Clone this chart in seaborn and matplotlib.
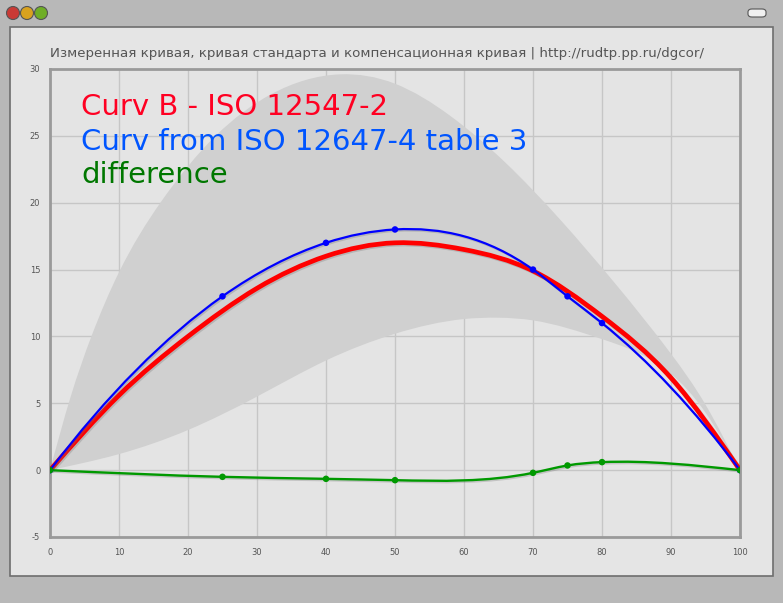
import matplotlib
matplotlib.use("Agg")
import numpy as np
import matplotlib.pyplot as plt
import matplotlib.patheffects as pe
import seaborn as sns
import pandas as pd
from matplotlib.path import Path
from matplotlib.patches import PathPatch, Rectangle, Ellipse, FancyBboxPatch

TITLE = "Измеренная кривая, кривая стандарта и компенсационная кривая | http://rudtp.pp.ru/dgcor/"

# measured points (ISO 12647-4 table 3) and the difference to curve B
x_pts = [0, 25, 40, 50, 70, 75, 80, 100]
iso_table = [0, 13, 17, 18, 15, 13, 11, 0]
difference = [0, -0.5, -0.65, -0.75, -0.2, 0.35, 0.6, 0]

# curve B - ISO 12547-2
curve_b_x = [0, 10, 20, 30, 40, 50, 60, 70, 80, 90, 100]
curve_b_y = [0, 5.6, 10.0, 13.6, 16.0, 17.0, 16.5, 14.9, 11.5, 6.9, 0]

# tolerance band
band_up_x = [0, 3, 6, 10, 16, 24, 32, 42, 50, 58, 66, 74, 82, 90, 95, 100]
band_up_y = [0, 5.5, 10, 14.8, 20, 25, 28.1, 29.6, 28.9, 26.5, 23.0, 18.7, 13.9, 8.7, 4.9, 0]
band_lo_x = [0, 10, 20, 30, 40, 50, 60, 65, 70, 80, 90, 95, 100]
band_lo_y = [0, 1.2, 3.0, 5.5, 8.2, 10.2, 11.3, 11.4, 11.2, 9.8, 7.2, 4.3, 0]

x_ticks = list(range(0, 101, 10))
y_ticks = list(range(-5, 31, 5))

W, H = 783, 603


def spline_path(xs, ys, runout=False):
    """Cubic spline through the points, written as Bezier segments."""
    x = np.asarray(xs, float)
    y = np.asarray(ys, float)
    n = len(x)
    h = np.diff(x)
    A = np.zeros((n, n))
    b = np.zeros(n)
    A[0, 0] = A[-1, -1] = 1
    if runout:
        A[0, 1] = A[-1, -2] = -1
    for i in range(1, n - 1):
        A[i, i - 1] = h[i - 1]
        A[i, i] = 2 * (h[i - 1] + h[i])
        A[i, i + 1] = h[i]
        b[i] = 6 * ((y[i + 1] - y[i]) / h[i] - (y[i] - y[i - 1]) / h[i - 1])
    M = np.linalg.solve(A, b)
    d = np.zeros(n)
    for i in range(n - 1):
        d[i] = (y[i + 1] - y[i]) / h[i] - h[i] * (2 * M[i] + M[i + 1]) / 6
    d[-1] = (y[-1] - y[-2]) / h[-1] + h[-1] * (M[-2] + 2 * M[-1]) / 6
    verts = [(x[0], y[0])]
    codes = [Path.MOVETO]
    for i in range(n - 1):
        t = h[i] / 3
        verts += [(x[i] + t, y[i] + t * d[i]), (x[i + 1] - t, y[i + 1] - t * d[i + 1]), (x[i + 1], y[i + 1])]
        codes += [Path.CURVE4] * 3
    return verts, codes


def fx(px):
    return px / W


def fy(py):
    return 1 - py / H


sns.set_style("white")
plt.rcParams['font.family'] = ['DejaVu Sans']
plt.rcParams['axes.unicode_minus'] = False

fig = plt.figure(figsize=(W / 100, H / 100), dpi=100, facecolor='#b8b8b8')

# window chrome
fig.add_artist(Rectangle((fx(10), fy(576)), fx(773) - fx(10), fy(27) - fy(576),
                         transform=fig.transFigure, facecolor='#e5e5e5',
                         edgecolor='#6e6e6e', lw=1.2, zorder=0))
for cx, col in [(13, '#c93a35'), (27, '#d9a21f'), (41, '#6fae26')]:
    fig.add_artist(Ellipse((fx(cx), fy(13)), 13 / W, 13 / H, transform=fig.transFigure,
                           facecolor=col, edgecolor='#555555', lw=0.8))
fig.add_artist(FancyBboxPatch((fx(748), fy(17)), 18 / W, 8 / H, boxstyle="round,pad=0,rounding_size=0.005",
                              transform=fig.transFigure, facecolor='#f0f0f0',
                              edgecolor='#555555', lw=0.8))

ax = fig.add_axes([fx(50), fy(537), fx(740) - fx(50), fy(69) - fy(537)])
ax.set_facecolor('#e4e4e4')

# band
uv, uc = spline_path(band_up_x, band_up_y)
lv, lc = spline_path(band_lo_x, band_lo_y)
verts = uv + lv[::-1] + [uv[0]]
codes = uc + [Path.LINETO] + [Path.CURVE4] * (len(lv) - 1) + [Path.CLOSEPOLY]
ax.add_patch(PathPatch(Path(verts, codes), facecolor='#d0d0d0', edgecolor='none', zorder=1))

# curves, with a light shadow
shadow = [pe.SimpleLineShadow(offset=(1, -1), shadow_color='#777777', alpha=0.3), pe.Normal()]
v, c = spline_path(curve_b_x, curve_b_y)
ax.add_patch(PathPatch(Path(v, c), facecolor='none', edgecolor='#ff0000', lw=3.4, zorder=3,
                       path_effects=shadow))
v, c = spline_path(x_pts, iso_table, runout=True)
ax.add_patch(PathPatch(Path(v, c), facecolor='none', edgecolor='#0000ff', lw=1.6, zorder=4,
                       path_effects=shadow))
v, c = spline_path(x_pts, difference)
ax.add_patch(PathPatch(Path(v, c), facecolor='none', edgecolor='#009900', lw=1.7, zorder=4,
                       path_effects=shadow))

df = pd.DataFrame({'x': x_pts, 'iso': iso_table, 'diff': difference})
sns.scatterplot(data=df, x='x', y='iso', color='#0000ff', s=22, edgecolor='none', ax=ax, zorder=5)
sns.scatterplot(data=df, x='x', y='diff', color='#009900', s=22, edgecolor='none', ax=ax, zorder=5)

ax.set_xlim(0, 100)
ax.set_ylim(-5, 30)
ax.set_xticks(x_ticks)
ax.set_yticks(y_ticks)
ax.set_xlabel('')
ax.set_ylabel('')
ax.grid(True, color='#c6c6c6', lw=1)
ax.set_axisbelow(True)
for sp in ax.spines.values():
    sp.set_color('#9a9a9a')
    sp.set_linewidth(2)
ax.tick_params(axis='y', length=5, width=1, color='#9a9a9a', labelsize=6, labelcolor='#555555', pad=2)
ax.tick_params(axis='x', length=0, labelsize=6, labelcolor='#555555', pad=8)

fig.text(fx(377), fy(57), TITLE, ha='center', va='baseline', fontsize=9.6, color='#555555')

fig.text(fx(81), fy(115), "Curv B - ISO 12547-2", color='#ff0022', fontsize=21, va='baseline')
fig.text(fx(81), fy(150), "Curv from ISO 12647-4 table 3", color='#0055ff', fontsize=21, va='baseline')
fig.text(fx(81), fy(183), "difference", color='#007700', fontsize=21, va='baseline')

fig.savefig('out.png', dpi=100, facecolor=fig.get_facecolor())
